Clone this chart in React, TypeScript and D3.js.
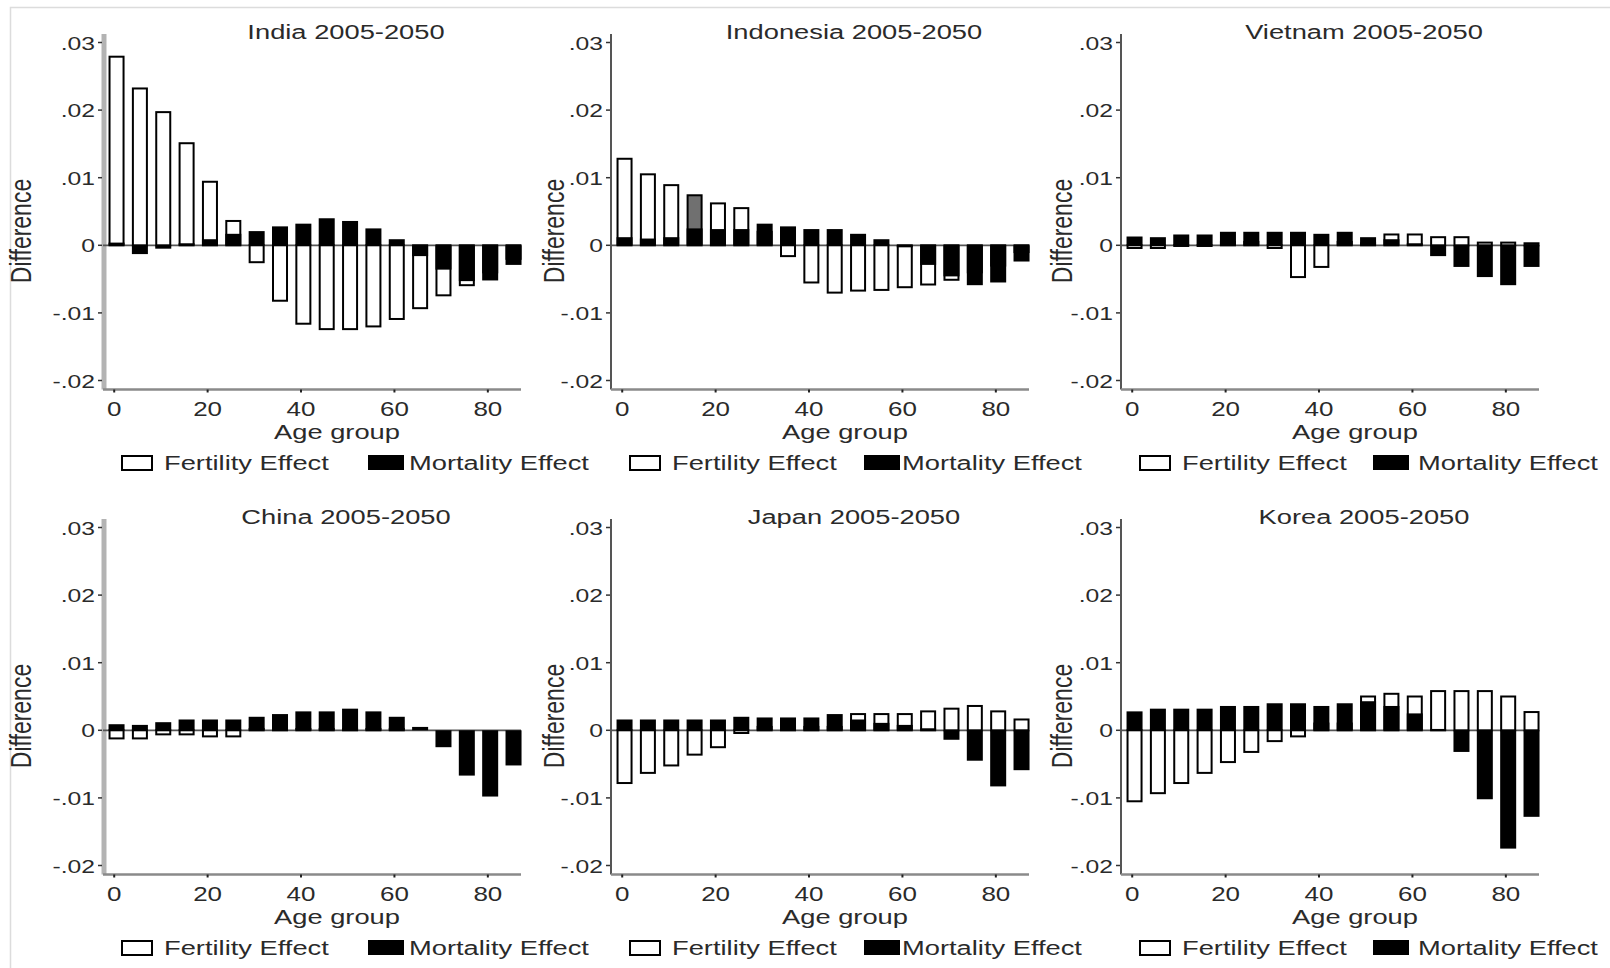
import React from 'react';
import * as d3 from 'd3';

// age groups (lower bound of 5-year band)
const ages = [0, 5, 10, 15, 20, 25, 30, 35, 40, 45, 50, 55, 60, 65, 70, 75, 80, 85];

const countries = ['India', 'Indonesia', 'Vietnam', 'China', 'Japan', 'Korea'];

const indiaFert = [0.0279, 0.0232, 0.0197, 0.0151, 0.0094, 0.0036, -0.0025, -0.0082, -0.0116, -0.0124, -0.0124, -0.012, -0.0109, -0.0093, -0.0074, -0.0059, -0.004, -0.002];
const indiaMort = [0.0004, -0.0013, -0.0005, 0.0003, 0.0009, 0.0017, 0.0021, 0.0028, 0.0032, 0.004, 0.0036, 0.0025, 0.0009, -0.0016, -0.0036, -0.0053, -0.0052, -0.0029];

const indonesiaFert = [0.0128, 0.0105, 0.0089, 0.0074, 0.0062, 0.0055, 0.002, -0.0016, -0.0055, -0.007, -0.0067, -0.0066, -0.0062, -0.0058, -0.0051, -0.004, -0.003, -0.001];
const indonesiaMort = [0.0012, 0.001, 0.0012, 0.0025, 0.0024, 0.0024, 0.0032, 0.0028, 0.0024, 0.0024, 0.0017, 0.0009, -0.0003, -0.0029, -0.0046, -0.0059, -0.0055, -0.0024];

const vietnamFert = [-0.0004, -0.0004, -0.0001, -0.0001, 0.0005, 0.0005, -0.0004, -0.0047, -0.0032, 0.0005, 0.0003, 0.0016, 0.0016, 0.0012, 0.0012, 0.0004, 0.0004, 0.0003];
const vietnamMort = [0.0013, 0.0012, 0.0016, 0.0016, 0.002, 0.002, 0.002, 0.002, 0.0017, 0.002, 0.0012, 0.0009, 0.0003, -0.0016, -0.0032, -0.0047, -0.0059, -0.0032];

const chinaFert = [-0.0012, -0.0012, -0.0006, -0.0006, -0.0009, -0.0009, 0.0002, 0.0002, 0.0002, 0.0002, 0.0002, 0.0002, 0.0002, 0, 0, 0, 0, 0];
const chinaMort = [0.0009, 0.0008, 0.0012, 0.0016, 0.0016, 0.0016, 0.002, 0.0024, 0.0028, 0.0028, 0.0032, 0.0028, 0.002, 0.0005, -0.0025, -0.0067, -0.0098, -0.0052];

const japanFert = [-0.0078, -0.0063, -0.0052, -0.0036, -0.0025, -0.0004, 0.0005, 0.0005, 0.0005, 0.0005, 0.0024, 0.0024, 0.0024, 0.0028, 0.0032, 0.0036, 0.0028, 0.0016];
const japanMort = [0.0016, 0.0016, 0.0016, 0.0016, 0.0016, 0.002, 0.0019, 0.0019, 0.0019, 0.0024, 0.0016, 0.0011, 0.0008, 0.0003, -0.0014, -0.0045, -0.0083, -0.0059];

const koreaFert = [-0.0105, -0.0093, -0.0078, -0.0063, -0.0047, -0.0032, -0.0016, -0.0009, 0.001, 0.001, 0.005, 0.0054, 0.005, 0.0058, 0.0058, 0.0058, 0.005, 0.0027];
const koreaMort = [0.0028, 0.0032, 0.0032, 0.0032, 0.0036, 0.0036, 0.004, 0.004, 0.0036, 0.004, 0.0043, 0.0036, 0.0025, 0.0002, -0.0032, -0.0102, -0.0175, -0.0128];

const fertility = [indiaFert, indonesiaFert, vietnamFert, chinaFert, japanFert, koreaFert];
const mortality = [indiaMort, indonesiaMort, vietnamMort, chinaMort, japanMort, koreaMort];

const yTicks = [-0.02, -0.01, 0, 0.01, 0.02, 0.03];
const xTicks = [0, 20, 40, 60, 80];

// layout
const axisX = [103, 611, 1121];
const yTitleOff = [-80, -55, -57];
const mortBoxOff = [265, 253, 252];
const mortTextOff = [306, 291, 297];
const rowDy = 485;
const plotW = 418;
const FONT = '"Liberation Sans", Arial, Helvetica, sans-serif';
const SX = 1.3; // the source image is stretched horizontally
const ink = '#2a2a2a';

const fmt = (v: number) => (v === 0 ? '0' : (v < 0 ? '-' : '') + Math.abs(v).toFixed(2).replace(/^0/, ''));

function T({ x, y, size, anchor = 'start', children }: any) {
  return (
    <text transform={`translate(${x},${y}) scale(${SX},1)`} fontSize={size} textAnchor={anchor} fill={ink} fontFamily={FONT}>
      {children}
    </text>
  );
}

function Panel({ idx }: { idx: number }) {
  const col = idx % 3;
  const row = Math.floor(idx / 3);
  const ax = axisX[col];
  const dy = row * rowDy;
  const x = d3.scaleLinear().domain([-2.4, 87.1]).range([ax, ax + plotW]);
  const y = d3.scaleLinear().domain([-0.02, 0.03]).range([380.5 + dy, 42.5 + dy]);
  const top = 34 + dy;
  const bottom = 389.5 + dy;
  const bw = x(3) - x(0);
  const fert = fertility[idx];
  const mort = mortality[idx];
  const name = countries[idx];

  return (
    <g>
      <T x={ax + 243} y={39 + dy} size={21} anchor="middle">{`${name} 2005-2050`}</T>

      {/* y axis */}
      <line x1={col === 0 ? ax + 1 : ax} x2={col === 0 ? ax + 1 : ax} y1={top} y2={bottom}
        stroke={col === 0 ? '#b3b3b3' : '#555'} strokeWidth={col === 0 ? 5 : 2} />
      {yTicks.map(t => (
        <g key={t}>
          <line x1={ax - 5} x2={ax - 1} y1={y(t)} y2={y(t)} stroke="#333" strokeWidth={1.5} />
          <T x={ax - 8} y={y(t) + 7} size={19} anchor="end">{fmt(t)}</T>
        </g>
      ))}
      <text transform={`translate(${ax + yTitleOff[col]},${231 + dy}) rotate(-90) scale(1,${SX})`} fontSize={23}
        textAnchor="middle" dominantBaseline="middle" fill={ink} fontFamily={FONT}>Difference</text>

      {/* x axis */}
      <line x1={ax} x2={ax + plotW} y1={bottom} y2={bottom} stroke="#8a8a8a" strokeWidth={2.5} />
      {xTicks.map(t => (
        <g key={t}>
          <line x1={x(t)} x2={x(t)} y1={bottom} y2={bottom + 3} stroke="#222" strokeWidth={2} />
          <T x={x(t)} y={416 + dy} size={20} anchor="middle">{t}</T>
        </g>
      ))}
      <T x={ax + 234} y={439 + dy} size={21} anchor="middle">Age group</T>

      {/* zero line */}
      <line x1={ax} x2={ax + plotW} y1={y(0)} y2={y(0)} stroke="#555" strokeWidth={1.8} />

      {/* fertility effect (hollow) */}
      {ages.map((a, i) => fert[i] === 0 ? null : (
        <rect key={'f' + a} x={x(a + 0.5) - bw / 2} width={bw}
          y={Math.min(y(0), y(fert[i]))} height={Math.abs(y(fert[i]) - y(0))}
          fill={name === 'Indonesia' && a === 15 ? '#707070' : '#fff'} stroke="#000" strokeWidth={2} />
      ))}
      {/* mortality effect (solid) */}
      {ages.map((a, i) => (
        <rect key={'m' + a} x={x(a + 0.5) - bw / 2 - 1} width={bw + 2}
          y={Math.min(y(0), y(mort[i]))} height={Math.abs(y(mort[i]) - y(0))} fill="#000" />
      ))}

      {/* legend */}
      <rect x={ax + 19} y={456 + dy} width={30} height={14} fill="#fff" stroke="#000" strokeWidth={2} />
      <T x={ax + 61} y={470 + dy} size={21}>Fertility Effect</T>
      <rect x={ax + mortBoxOff[col]} y={455 + dy} width={36} height={15} fill="#000" />
      <T x={ax + mortTextOff[col]} y={470 + dy} size={21}>Mortality Effect</T>
    </g>
  );
}

export default function App() {
  return (
    <svg width={1610} height={968} style={{ position: 'absolute', left: 0, top: 0, background: '#fff' }}>
      <rect x={0} y={0} width={1610} height={968} fill="#fff" />
      <path d="M10.5,968 V7.5 H1610" fill="none" stroke="#dcdcdc" strokeWidth={1.5} />
      {countries.map((c, i) => <Panel key={c} idx={i} />)}
    </svg>
  );
}
